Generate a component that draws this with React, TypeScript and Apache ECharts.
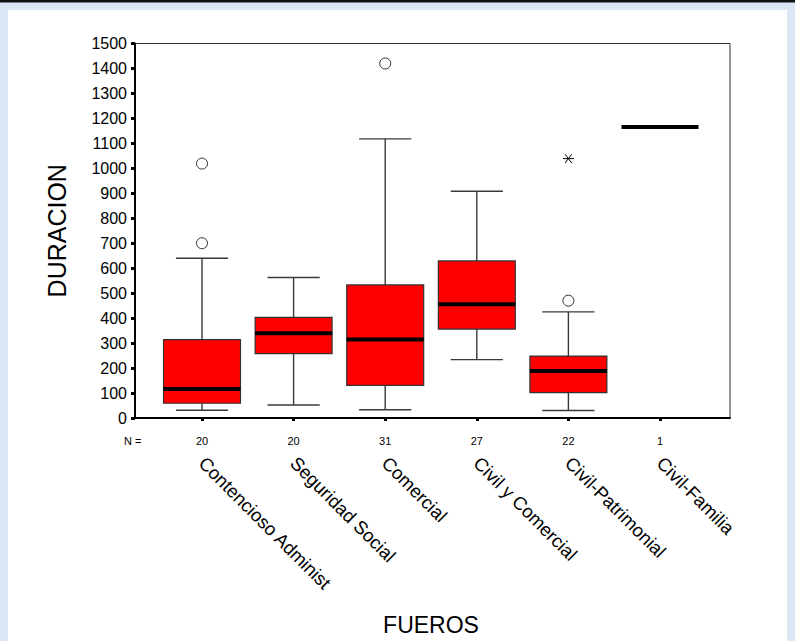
import React, { useEffect, useRef } from "react";
import * as echarts from "echarts";

const categories = [
  "Contencioso Administ",
  "Seguridad Social",
  "Comercial",
  "Civil y Comercial",
  "Civil-Patrimonial",
  "Civil-Familia",
];
const counts = ["20", "20", "31", "27", "22", "1"];
// [lower whisker, Q1, median, Q3, upper whisker]
const boxStats = [
  [31, 59, 116, 314, 640],
  [52, 258, 339, 403, 563],
  [33, 131, 314, 533, 1118],
  [234, 356, 456, 629, 908],
  [30, 102, 188, 248, 425],
  [1166, 1166, 1166, 1166, 1166],
];
// [category index, value]
const outliers = [
  [0, 1019],
  [0, 700],
  [2, 1420],
  [4, 470],
];
const extremes = [[4, 1039]];
const yMin = 0;
const yMax = 1500;
const yStep = 100;

const FONT = "'Liberation Sans', Arial, sans-serif";

export default function App() {
  const ref = useRef<HTMLDivElement>(null);
  useEffect(() => {
    if (!ref.current) return;
    const chart = echarts.init(ref.current, null, { renderer: "svg" });
    const gridTop = 43.5;
    const gridHeight = 374.5;
    chart.setOption({
      animation: false,
      backgroundColor: "#dce7f5",
      textStyle: { fontFamily: FONT },
      graphic: [
        {
          type: "rect",
          z: -10,
          shape: { x: 0, y: 0, width: 795, height: 2.5 },
          style: { fill: "#111" },
        },
        {
          type: "rect",
          z: -10,
          shape: { x: 8, y: 10, width: 779, height: 640 },
          style: { fill: "#ffffff" },
        },
        {
          type: "text",
          x: 124,
          y: 441,
          style: {
            text: "N =",
            fontSize: 11,
            fontFamily: FONT,
            fill: "#000",
            verticalAlign: "middle",
          },
        },
      ],
      grid: [
        {
          left: 135,
          top: gridTop,
          width: 595,
          height: gridHeight,
          show: true,
          borderColor: "#333",
          borderWidth: 1,
          backgroundColor: "#fff",
        },
        {
          left: 156.2,
          top: gridTop,
          width: 549.6,
          height: gridHeight,
        },
      ],
      xAxis: [
        {
          gridIndex: 0,
          type: "value",
          min: 0,
          max: 1,
          axisLine: { show: true, lineStyle: { color: "#000", width: 2 } },
          axisTick: { show: false },
          axisLabel: { show: false },
          splitLine: { show: false },
        },
        {
          gridIndex: 1,
          type: "category",
          data: categories,
          position: "bottom",
          axisLine: { show: false },
          axisTick: {
            show: true,
            alignWithLabel: true,
            length: 3,
            lineStyle: { color: "#000", width: 3 },
          },
          axisLabel: {
            rotate: -45,
            fontSize: 18.5,
            color: "#000",
            margin: 42,
            fontFamily: FONT,
          },
          name: "FUEROS",
          nameLocation: "middle",
          nameGap: 195,
          nameTextStyle: { fontSize: 23, color: "#000", fontFamily: FONT },
        },
        {
          gridIndex: 1,
          type: "category",
          data: counts,
          position: "bottom",
          axisLine: { show: false },
          axisTick: { show: false },
          axisLabel: { fontSize: 11, color: "#000", margin: 17, fontFamily: FONT },
        },
      ],
      yAxis: [
        {
          gridIndex: 0,
          type: "value",
          min: yMin,
          max: yMax,
          interval: yStep,
          axisLine: { show: true, lineStyle: { color: "#000", width: 2 } },
          axisTick: { show: true, length: 4, lineStyle: { color: "#000", width: 3 } },
          axisLabel: {
            fontSize: 16,
            color: "#000",
            margin: 8,
            fontFamily: FONT,
            formatter: (v: number) => String(v),
          },
          splitLine: { show: false },
          name: "DURACION",
          nameLocation: "middle",
          nameGap: 66,
          nameTextStyle: { fontSize: 25, color: "#000", fontFamily: FONT },
        },
        {
          gridIndex: 1,
          type: "value",
          min: yMin,
          max: yMax,
          show: false,
        },
      ],
      series: [
        {
          type: "custom",
          xAxisIndex: 1,
          yAxisIndex: 1,
          data: boxStats.map((b, i) => [i, ...b]),
          encode: { x: 0, y: [1, 2, 3, 4, 5] },
          renderItem: (params: any, api: any) => {
            const i = api.value(0);
            const lo = api.coord([i, api.value(1)]);
            const q1 = api.coord([i, api.value(2)]);
            const med = api.coord([i, api.value(3)]);
            const q3 = api.coord([i, api.value(4)]);
            const hi = api.coord([i, api.value(5)]);
            const band = api.size([1, 0])[0];
            const bw = band * 0.84;
            const cw = band * 0.57;
            const x = lo[0];
            const wStyle = { stroke: "#3a3a3a", lineWidth: 1.4 };
            const children: any[] = [];
            if (hi[1] !== lo[1]) {
              children.push(
                { type: "line", shape: { x1: x, y1: hi[1], x2: x, y2: q3[1] }, style: wStyle },
                { type: "line", shape: { x1: x, y1: q1[1], x2: x, y2: lo[1] }, style: wStyle },
                { type: "line", shape: { x1: x - cw / 2, y1: hi[1], x2: x + cw / 2, y2: hi[1] }, style: wStyle },
                { type: "line", shape: { x1: x - cw / 2, y1: lo[1], x2: x + cw / 2, y2: lo[1] }, style: wStyle },
                {
                  type: "rect",
                  shape: { x: x - bw / 2, y: q3[1], width: bw, height: q1[1] - q3[1] },
                  style: { fill: "#ff0000", stroke: "#333", lineWidth: 1.2 },
                }
              );
            }
            children.push({
              type: "line",
              shape: { x1: x - bw / 2, y1: med[1], x2: x + bw / 2, y2: med[1] },
              style: { stroke: "#000", lineWidth: 4 },
            });
            return { type: "group", children };
          },
        },
        {
          type: "scatter",
          xAxisIndex: 1,
          yAxisIndex: 1,
          data: outliers,
          symbol: "circle",
          symbolSize: 11,
          itemStyle: { color: "#fff", borderColor: "#000", borderWidth: 1 },
        },
        {
          type: "custom",
          xAxisIndex: 1,
          yAxisIndex: 1,
          data: extremes,
          encode: { x: 0, y: 1 },
          renderItem: (params: any, api: any) => {
            const p = api.coord([api.value(0), api.value(1)]);
            const r = 5.5;
            const s = { stroke: "#000", lineWidth: 1 };
            return {
              type: "group",
              children: [
                { type: "line", shape: { x1: p[0] - r, y1: p[1], x2: p[0] + r, y2: p[1] }, style: s },
                { type: "line", shape: { x1: p[0] - r * 0.6, y1: p[1] - r * 0.8, x2: p[0] + r * 0.6, y2: p[1] + r * 0.8 }, style: s },
                { type: "line", shape: { x1: p[0] + r * 0.6, y1: p[1] - r * 0.8, x2: p[0] - r * 0.6, y2: p[1] + r * 0.8 }, style: s },
              ],
            };
          },
        },
      ],
    });
    return () => chart.dispose();
  }, []);
  return (
    <div
      ref={ref}
      style={{ position: "absolute", left: 0, top: 0, width: 795, height: 641 }}
    />
  );
}
